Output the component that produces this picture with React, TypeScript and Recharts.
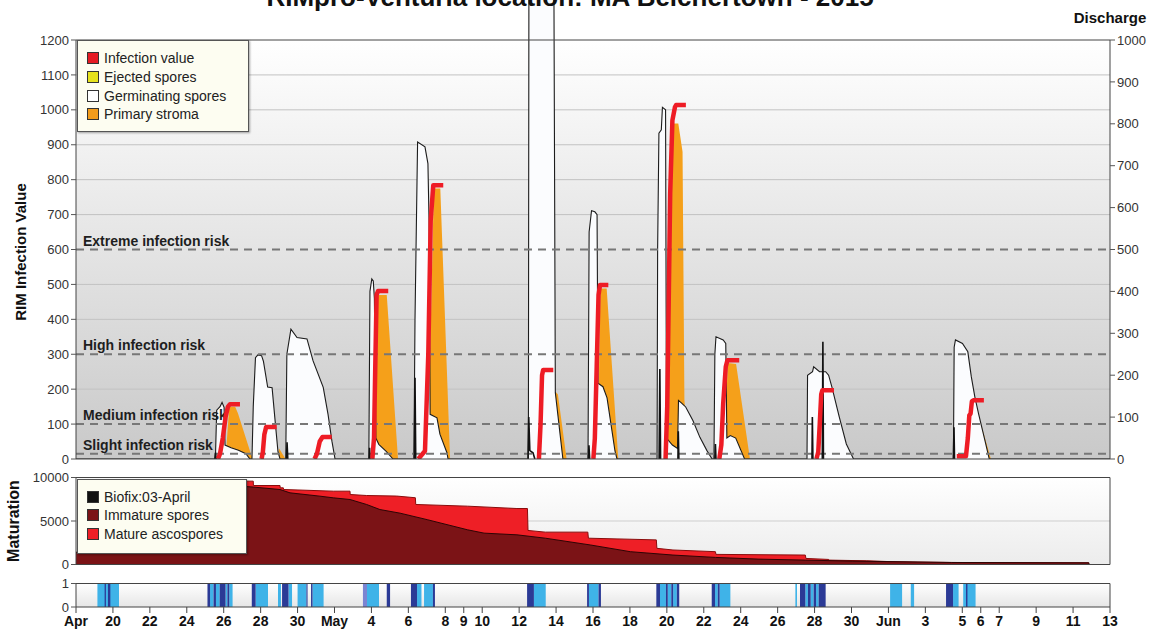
import React from 'react';
import { ComposedChart, Area, Line, XAxis, YAxis, ReferenceLine, ReferenceArea } from 'recharts';

const FONT = '"Liberation Sans", Arial, Helvetica, sans-serif';

type Pt = [number, number];

// x = days since 18 April 2015 (domain 18 Apr .. 13 Jun)
const xTicks = [0, 2, 4, 6, 8, 10, 12, 14, 16, 18, 20, 21, 22, 24, 26, 28, 30, 32, 34, 36, 38, 40, 42, 44, 46, 48, 49, 50, 52, 54, 56];
const xTickLabels = ['Apr', '20', '22', '24', '26', '28', '30', 'May', '4', '6', '8', '9', '10', '12', '14', '16', '18', '20', '22', '24', '26', '28', '30', 'Jun', '3', '5', '6', '7', '9', '11', '13'];

const rimTicks = [0, 100, 200, 300, 400, 500, 600, 700, 800, 900, 1000, 1100, 1200];
const dischargeTicks = [0, 100, 200, 300, 400, 500, 600, 700, 800, 900, 1000];
const rimGridValues = [200, 400, 500, 700, 800, 900, 1000, 1100];
const maturationTicks = [0, 5000, 10000];
const wetTicks = [0, 1];

const riskLevels = [
  { label: 'Extreme infection risk', value: 600 },
  { label: 'High infection risk', value: 300 },
  { label: 'Medium infection risk', value: 100 },
  { label: 'Slight infection risk', value: 15 },
];

const germinatingSpores: Pt[] = [
  [0, 0],
  [7.55, 0], [7.62, 140], [7.8, 150], [7.91, 162], [8.02, 148], [8.07, 40], [8.4, 32], [8.8, 25], [9.2, 15], [9.42, 0],
  [9.53, 0], [9.6, 150], [9.72, 290], [9.85, 298], [10.05, 296], [10.15, 280], [10.38, 206], [10.62, 204], [10.8, 100], [10.94, 20], [11.05, 0],
  [11.36, 0], [11.42, 300], [11.64, 372], [11.97, 348], [12.51, 344], [12.84, 281], [13.39, 205], [13.65, 128], [13.86, 51], [14.03, 0],
  [15.86, 0], [15.92, 480], [16.02, 516], [16.1, 510], [16.16, 460], [16.24, 60], [16.4, 42], [16.8, 22], [17.17, 0],
  [18.3, 0], [18.36, 400], [18.5, 908], [18.9, 894], [19.06, 846], [19.12, 683], [19.18, 128], [19.55, 118], [19.71, 71], [20.09, 18], [20.15, 0],
  [24.5, 0], [24.53, 1400], [25.88, 1400], [25.96, 190], [26.37, 0],
  [27.73, 0], [27.79, 650], [27.92, 711], [28.1, 708], [28.22, 700], [28.27, 217], [28.54, 207], [28.76, 175], [29.03, 80], [29.19, 23], [29.3, 0],
  [31.47, 0], [31.5, 600], [31.57, 933], [31.7, 943], [31.76, 1007], [31.93, 1000], [31.98, 60], [32.3, 40], [32.58, 30], [32.63, 168], [32.8, 160], [33.02, 149], [33.41, 110], [33.79, 62], [34.17, 24], [34.45, 0],
  [34.55, 0], [34.6, 300], [34.66, 350], [35.05, 341], [35.19, 331], [35.25, 60], [35.44, 67], [35.73, 60], [36.21, 0],
  [39.59, 0], [39.62, 240], [39.89, 250], [39.95, 264], [40.27, 250], [40.6, 250], [40.76, 240], [40.94, 206], [41.34, 120], [41.72, 43], [42.11, 0],
  [47.52, 0], [47.56, 320], [47.63, 341], [48.01, 331], [48.3, 307], [48.49, 235], [48.68, 178], [48.88, 130], [49.27, 43], [49.46, 0],
  [56, 0],
];

const primaryStroma: Pt[] = [
  [0, 0],
  [8.1, 0], [8.3, 150], [8.62, 150], [8.77, 131], [9.53, 5], [9.56, 0],
  [10.9, 0], [11.0, 30], [11.35, 0],
  [16.2, 0], [16.3, 470], [16.83, 470], [17.44, 0],
  [19.05, 0], [19.38, 775], [19.73, 775], [20.26, 0],
  [25.9, 0], [25.96, 193], [26.1, 185], [26.57, 0],
  [28.25, 0], [28.4, 488], [28.74, 488], [29.37, 0],
  [31.98, 0], [32.15, 700], [32.3, 961], [32.62, 961], [32.85, 880], [32.95, 170], [33.2, 0],
  [35.1, 0], [35.3, 275], [35.75, 272], [36.5, 0],
  [48.45, 0], [48.55, 160], [48.7, 158], [49.55, 0],
  [56, 0],
];

const infectionValue: Pt[][] = [
  [[7.69, 0], [7.8, 15], [7.95, 60], [8.1, 120], [8.23, 150], [8.34, 157], [8.88, 157]],
  [[10.05, 0], [10.12, 20], [10.2, 70], [10.3, 92], [10.87, 92]],
  [[12.92, 0], [13.05, 15], [13.2, 50], [13.35, 63], [13.85, 63]],
  [[16.05, 0], [16.14, 60], [16.22, 300], [16.28, 470], [16.36, 481], [16.91, 481]],
  [[18.54, 0], [18.9, 23], [19.08, 300], [19.21, 683], [19.35, 784], [19.89, 784]],
  [[25.07, 0], [25.16, 100], [25.24, 240], [25.3, 255], [25.85, 255]],
  [[28.02, 0], [28.1, 60], [28.2, 264], [28.3, 470], [28.38, 498], [28.83, 498]],
  [[31.93, 0], [32.02, 150], [32.1, 450], [32.18, 760], [32.3, 970], [32.44, 1008], [32.5, 1014], [33.03, 1014]],
  [[34.84, 0], [34.95, 40], [35.05, 158], [35.19, 264], [35.28, 283], [35.92, 283]],
  [[40.1, 0], [40.2, 20], [40.28, 100], [40.36, 185], [40.42, 197], [41.05, 197]],
  [[47.7, 8], [48.2, 8], [48.3, 60], [48.38, 125], [48.45, 130], [48.52, 165], [48.6, 168], [49.17, 168]],
];

// discharge, right axis units
const discharge: Pt[][] = [
  [[7.52, 0], [7.55, 15], [7.6, 0]],
  [[11.4, 0], [11.43, 40], [11.47, 0]],
  [[15.88, 0], [15.9, 27], [15.93, 0]],
  [[18.33, 0], [18.36, 194], [18.4, 0]],
  [[24.48, 0], [24.52, 100], [24.58, 20], [24.75, 15], [24.85, 0]],
  [[27.75, 0], [27.78, 33], [27.82, 0]],
  [[31.58, 0], [31.62, 215], [31.66, 0]],
  [[32.6, 0], [32.62, 66], [32.65, 0]],
  [[34.6, 0], [34.63, 36], [34.66, 0]],
  [[39.86, 0], [39.88, 100], [39.91, 0]],
  [[40.42, 0], [40.45, 280], [40.48, 0]],
  [[47.52, 0], [47.55, 76], [47.58, 0]],
];

const immatureSpores: Pt[] = [
  [0, 1400], [9.13, 1400], [9.15, 8966], [9.6, 8900], [11.05, 8620], [11.59, 8238], [13.21, 7854], [13.94, 7663],
  [14.84, 7471], [15.74, 6897], [16.46, 6318], [17.55, 5900], [19.02, 5155], [21.2, 3992], [22.1, 3605], [23.88, 3411],
  [25.42, 3023], [27.85, 2248], [30.02, 1473], [32.33, 1085], [34.63, 814], [36.94, 620], [39.5, 504], [42.05, 388],
  [47.43, 233], [54.85, 190], [54.86, 0], [56, 0],
];

// immature + mature ascospores (top of the mature band)
const matureAscosporesTop: Pt[] = [
  [0, 1400], [9.13, 1400], [9.15, 9580], [9.6, 9580], [9.61, 9080], [11.05, 9080], [11.06, 8812], [11.23, 8812],
  [11.24, 8620], [13.94, 8429], [14.84, 8429], [14.85, 8046], [15.74, 7931], [17.36, 7868], [18.38, 7674], [18.4, 6899],
  [21.2, 6705], [23.88, 6434], [24.45, 6434], [24.48, 3915], [25.42, 3721], [27.72, 3721], [27.75, 3023], [31.43, 2829],
  [31.46, 1860], [32.33, 1667], [34.63, 1473], [34.66, 1163], [39.5, 1085], [39.53, 698], [40.77, 581], [40.8, 504],
  [42.83, 426], [44.36, 310], [47.43, 233], [54.85, 190], [54.86, 0], [56, 0],
];

const wetLight: Pt[] = [
  [1.16, 2.33], [7.26, 7.45], [7.58, 7.78], [8.1, 8.2], [8.3, 8.48], [9.73, 10.4], [10.94, 11.1], [11.51, 11.7],
  [12.0, 12.48], [12.81, 13.41], [15.76, 16.41], [18.47, 18.71], [18.85, 19.33], [24.8, 25.44], [27.78, 28.3],
  [31.63, 31.95], [32.05, 32.24], [32.34, 32.54], [34.61, 34.76], [34.86, 35.44], [38.96, 39.05], [39.5, 39.64],
  [39.79, 39.95], [40.08, 40.22], [44.09, 44.74], [45.21, 45.39], [47.5, 47.8], [48.05, 48.72],
];
const wetDark: Pt[] = [
  [1.55, 1.62], [1.73, 1.86], [7.12, 7.26], [7.45, 7.58], [7.78, 8.1], [8.2, 8.3], [9.52, 9.73], [11.16, 11.51],
  [12.48, 12.54], [12.73, 12.81], [16.83, 17.01], [18.14, 18.47], [19.33, 19.44], [24.43, 24.8], [27.68, 27.78],
  [28.3, 28.43], [31.43, 31.63], [31.95, 32.05], [32.24, 32.34], [32.54, 32.67], [34.43, 34.61], [34.76, 34.86],
  [39.21, 39.5], [39.64, 39.79], [39.95, 40.08], [40.22, 40.6], [47.12, 47.5], [48.2, 48.28],
];
const wetMedium: Pt[] = [[15.54, 15.76]];

const mainLegend = [
  { label: 'Infection value', color: '#e51b23' },
  { label: 'Ejected spores', color: '#e6e21c' },
  { label: 'Germinating spores', color: '#ffffff' },
  { label: 'Primary stroma', color: '#f39c1b' },
];
const maturationLegend = [
  { label: 'Biofix:03-April', color: '#111111' },
  { label: 'Immature spores', color: '#7b1316' },
  { label: 'Mature ascospores', color: '#ee1f26' },
];

const toRows = (pts: Pt[]) => pts.map(([d, v]) => ({ d, v }));
const joinSegments = (segs: Pt[][]) => {
  const out: { d: number; v: number | null }[] = [];
  segs.forEach((s, i) => {
    if (i > 0) {
      const prev = segs[i - 1];
      out.push({ d: (prev[prev.length - 1][0] + s[0][0]) / 2, v: null });
    }
    s.forEach(([d, v]) => out.push({ d, v }));
  });
  return out;
};

const germRows = toRows(germinatingSpores);
const stromaRows = toRows(primaryStroma);
const infectionRows = joinSegments(infectionValue);
const dischargeRows = joinSegments(discharge);
const immatureRows = toRows(immatureSpores);
const matureRows = toRows(matureAscosporesTop);

const X_MAX = 56;
const RIM_TOP = (1200 * 459) / 419;
const DIS_TOP = (1000 * 459) / 419;
const labelFor = new Map(xTicks.map((t, i) => [t, xTickLabels[i]]));

const tickStyle = { fill: '#333', fontSize: 13, fontFamily: FONT };

const LegendBox = ({ left, top, width, height, items, firstTop, step }: any) => (
  <div
    style={{
      position: 'absolute', left, top, width, height, boxSizing: 'border-box',
      background: '#fdfdf1', border: '1px solid #555', boxShadow: '1px 1px 2px rgba(0,0,0,0.35)',
    }}
  >
    {items.map((it: any, i: number) => (
      <div key={it.label} style={{ position: 'absolute', left: 9, top: firstTop + i * step, height: 16, display: 'flex', alignItems: 'center' }}>
        <span style={{ display: 'inline-block', width: 10, height: 10, background: it.color, border: '1px solid #333', marginRight: 5 }} />
        <span style={{ fontSize: 14, lineHeight: '16px', color: '#222', fontFamily: FONT, whiteSpace: 'nowrap' }}>{it.label}</span>
      </div>
    ))}
  </div>
);

const riskLabel = (text: string) => (props: any) => {
  const vb = props.viewBox || {};
  return (
    <text x={vb.x + 7} y={vb.y - 4} fill="#1e1e1e" fontSize={14} fontWeight="bold" fontFamily={FONT}>
      {text}
    </text>
  );
};

export default function App() {
  return (
    <div style={{ position: 'absolute', left: 0, top: 0, width: 1157, height: 631, overflow: 'hidden', background: '#fff', fontFamily: FONT }}>
      {/* Main panel */}
      <div style={{ position: 'absolute', left: 0, top: 0 }}>
        <ComposedChart width={1157} height={470} margin={{ top: 0, right: 0, bottom: 11, left: 0 }}>
          <defs>
            <linearGradient id="mainBg" x1="0" y1="0" x2="0" y2="1">
              <stop offset="0%" stopColor="#ffffff" />
              <stop offset="100%" stopColor="#c9c9c9" />
            </linearGradient>
          </defs>
          <XAxis type="number" dataKey="d" domain={[0, X_MAX]} hide allowDataOverflow />
          <YAxis yAxisId="left" type="number" domain={[0, RIM_TOP]} ticks={rimTicks} interval={0} allowDataOverflow width={76}
            axisLine={false} tickLine={{ stroke: '#555' }} tickSize={5} tickMargin={2} tick={tickStyle} />
          <YAxis yAxisId="right" orientation="right" type="number" domain={[0, DIS_TOP]} ticks={dischargeTicks} interval={0} allowDataOverflow width={47}
            axisLine={false} tickLine={{ stroke: '#555' }} tickSize={5} tickMargin={2} tick={tickStyle} />
          <ReferenceArea yAxisId="left" x1={0} x2={X_MAX} y1={0} y2={1200} fill="url(#mainBg)" fillOpacity={1} stroke="none" zIndex={-200} />
          {rimGridValues.map((v) => (
            <ReferenceLine key={v} yAxisId="left" y={v} stroke="#c2c2c2" strokeWidth={1} zIndex={-150} />
          ))}
          <Area yAxisId="left" data={stromaRows} dataKey="v" type="linear" fill="#f5a01a" fillOpacity={1} stroke="none"
            dot={false} activeDot={false} isAnimationActive={false} />
          <Area yAxisId="left" data={germRows} dataKey="v" type="linear" fill="#fbfcfe" fillOpacity={1} stroke="#1c1c1c" strokeWidth={1.1}
            dot={false} activeDot={false} isAnimationActive={false} />
          {riskLevels.map((r) => (
            <ReferenceLine key={r.label} yAxisId="left" y={r.value} stroke="#777" strokeWidth={2} strokeDasharray="8 6" zIndex={150}
              label={riskLabel(r.label)} />
          ))}
          <Line yAxisId="right" data={dischargeRows} dataKey="v" type="linear" stroke="#111" strokeWidth={1.6} dot={false} activeDot={false}
            connectNulls={false} isAnimationActive={false} />
          <Line yAxisId="left" data={infectionRows} dataKey="v" type="linear" stroke="#ee1c25" strokeWidth={4.5} dot={false} activeDot={false}
            connectNulls={false} isAnimationActive={false} strokeLinejoin="round" />
          <ReferenceArea yAxisId="left" x1={0} x2={X_MAX} y1={0} y2={1200} fill="none" stroke="#444" strokeWidth={1} zIndex={450} />
        </ComposedChart>
      </div>

      {/* Maturation panel */}
      <div style={{ position: 'absolute', left: 0, top: 467 }}>
        <ComposedChart width={1157} height={105} margin={{ top: 10.5, right: 47, bottom: 7.5, left: 0 }}>
          <defs>
            <linearGradient id="matBg" x1="0" y1="0" x2="0" y2="1">
              <stop offset="0%" stopColor="#ffffff" />
              <stop offset="100%" stopColor="#ececec" />
            </linearGradient>
          </defs>
          <XAxis type="number" dataKey="d" domain={[0, X_MAX]} hide allowDataOverflow />
          <YAxis yAxisId="m" type="number" domain={[0, 10000]} ticks={maturationTicks} interval={0} allowDataOverflow width={76}
            axisLine={false} tickLine={{ stroke: '#555' }} tickSize={5} tickMargin={2} tick={tickStyle} />
          <ReferenceArea yAxisId="m" x1={0} x2={X_MAX} y1={0} y2={10000} fill="url(#matBg)" fillOpacity={1} stroke="none" zIndex={-200} />
          <ReferenceLine yAxisId="m" y={5000} stroke="#cfcfcf" zIndex={-150} />
          <Area yAxisId="m" data={matureRows} dataKey="v" type="linear" fill="#ee1f26" fillOpacity={1} stroke="#8a0c0c" strokeWidth={1}
            dot={false} activeDot={false} isAnimationActive={false} />
          <Area yAxisId="m" data={immatureRows} dataKey="v" type="linear" fill="#7b1316" fillOpacity={1} stroke="#2e0404" strokeWidth={1}
            dot={false} activeDot={false} isAnimationActive={false} />
          <ReferenceArea yAxisId="m" x1={0} x2={X_MAX} y1={0} y2={10000} fill="none" stroke="#444" strokeWidth={1} zIndex={450} />
        </ComposedChart>
      </div>

      {/* Leaf wetness panel */}
      <div style={{ position: 'absolute', left: 0, top: 574 }}>
        <ComposedChart width={1157} height={57} margin={{ top: 9.5, right: 47, bottom: 0, left: 0 }}>
          <defs>
            <linearGradient id="wetBg" x1="0" y1="0" x2="0" y2="1">
              <stop offset="0%" stopColor="#ffffff" />
              <stop offset="100%" stopColor="#e6e6e6" />
            </linearGradient>
          </defs>
          <XAxis type="number" dataKey="d" domain={[0, X_MAX]} ticks={xTicks} interval={0} allowDataOverflow height={24}
            tickFormatter={(v: number) => labelFor.get(v) ?? ''} axisLine={false} tickLine={{ stroke: '#444' }} tickSize={6} tickMargin={3}
            tick={{ fill: '#111', fontSize: 14, fontWeight: 'bold', fontFamily: FONT }} />
          <YAxis yAxisId="w" type="number" domain={[0, 1]} ticks={wetTicks} interval={0} allowDataOverflow width={76}
            axisLine={false} tickLine={{ stroke: '#555' }} tickSize={5} tickMargin={2} tick={tickStyle} />
          <ReferenceArea yAxisId="w" x1={0} x2={X_MAX} y1={0} y2={1} fill="url(#wetBg)" fillOpacity={1} stroke="none" zIndex={-200} />
          {wetLight.map(([a, b]) => (
            <ReferenceArea key={'l' + a} yAxisId="w" x1={a} x2={b} y1={0} y2={1} fill="#3fb3e8" fillOpacity={1} stroke="none" zIndex={-100} />
          ))}
          {wetMedium.map(([a, b]) => (
            <ReferenceArea key={'m' + a} yAxisId="w" x1={a} x2={b} y1={0} y2={1} fill="#7b84d2" fillOpacity={1} stroke="none" zIndex={-90} />
          ))}
          {wetDark.map(([a, b]) => (
            <ReferenceArea key={'d' + a} yAxisId="w" x1={a} x2={b} y1={0} y2={1} fill="#2b3a96" fillOpacity={1} stroke="none" zIndex={-80} />
          ))}
          <ReferenceArea yAxisId="w" x1={0} x2={X_MAX} y1={0} y2={1} fill="none" stroke="#444" strokeWidth={1} zIndex={450} />
        </ComposedChart>
      </div>

      {/* Texts */}
      <div style={{ position: 'absolute', left: 0, top: -16.5, width: 1140, textAlign: 'center', fontSize: 26, lineHeight: '26px', fontWeight: 'bold', color: '#111', whiteSpace: 'nowrap' }}>
        RIMpro-Venturia location: MA Belchertown - 2015
      </div>
      <div style={{ position: 'absolute', left: 1050, top: 10, width: 120, textAlign: 'center', fontSize: 15, lineHeight: '15px', fontWeight: 'bold', color: '#111' }}>
        Discharge
      </div>
      <div style={{ position: 'absolute', left: 20, top: 252, transform: 'translate(-50%, -50%) rotate(-90deg)', fontSize: 15, fontWeight: 'bold', color: '#111', whiteSpace: 'nowrap' }}>
        RIM Infection Value
      </div>
      <div style={{ position: 'absolute', left: 14, top: 521, transform: 'translate(-50%, -50%) rotate(-90deg)', fontSize: 16, fontWeight: 'bold', color: '#111', whiteSpace: 'nowrap' }}>
        Maturation
      </div>

      <LegendBox left={77} top={40} width={172} height={92} items={mainLegend} firstTop={9.3} step={18.6} />
      <LegendBox left={77} top={479} width={170} height={75} items={maturationLegend} firstTop={8.7} step={18.7} />
    </div>
  );
}
